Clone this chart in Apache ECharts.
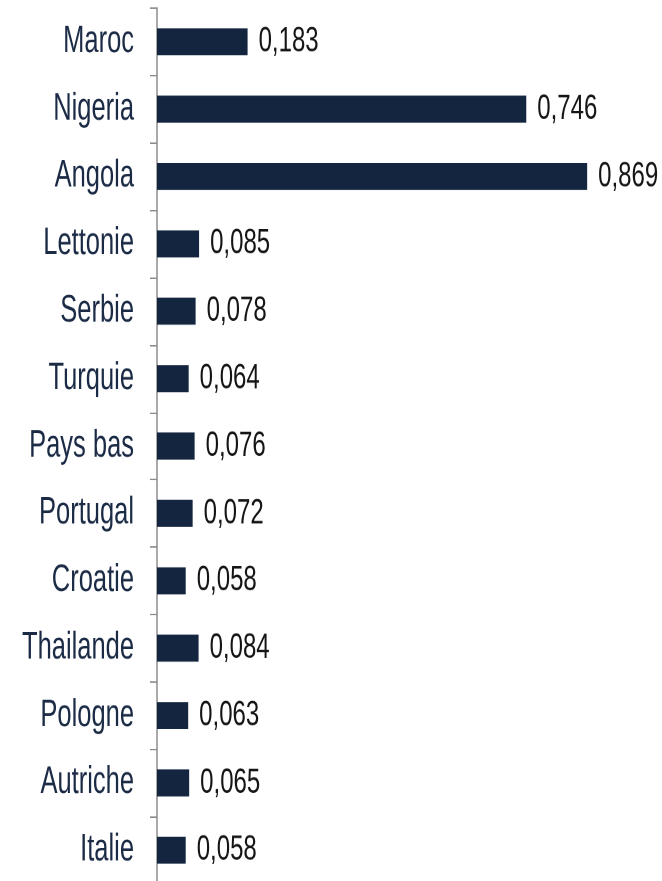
<!DOCTYPE html>
<html>
<head>
<meta charset="utf-8">
<script src="https://cdn.jsdelivr.net/npm/echarts@6/dist/echarts.min.js"></script>
<style>
  html, body { margin: 0; padding: 0; background: #fff; }
  #wrap { width: 662px; height: 881px; position: relative; overflow: hidden; }
  /* the reference is a vertically stretched export: draw at 600px high, stretch to 881 */
  #chart { position: absolute; left: 0; top: 0; width: 662px; height: 600px;
           transform: scaleY(1.4683); transform-origin: 0 0; }
</style>
</head>
<body>
<div id="wrap"><div id="chart"></div></div>
<script>
const countries = ["Maroc", "Nigeria", "Angola", "Lettonie", "Serbie", "Turquie", "Pays bas",
  "Portugal", "Croatie", "Thailande", "Pologne", "Autriche", "Italie"];
const values = [0.183, 0.746, 0.869, 0.085, 0.078, 0.064, 0.076, 0.072, 0.058, 0.084, 0.063, 0.065, 0.058];

const font = '"Liberation Sans", Arial, sans-serif';
const chart = echarts.init(document.getElementById("chart"), null, { renderer: "canvas", devicePixelRatio: 2 });

chart.setOption({
  animation: false,
  grid: { left: 157, top: 5.5, width: 495, height: 596.5, outerBoundsMode: "none", containLabel: false },
  xAxis: {
    type: "value",
    min: 0,
    max: 1,
    show: false
  },
  yAxis: {
    type: "category",
    inverse: true,
    data: countries,
    axisLine: { lineStyle: { color: "#8c8c8c", width: 1.5 } },
    axisTick: { show: true, length: 7, lineStyle: { color: "#8c8c8c", width: 1 } },
    axisLabel: {
      margin: 23,
      color: "#1b2b45",
      fontFamily: font,
      fontSize: 25.5
    },
    splitLine: { show: false }
  },
  series: [
    {
      type: "bar",
      data: values,
      barWidth: 18.4,
      itemStyle: { color: "#13253f" },
      label: {
        show: true,
        position: "right",
        distance: 11,
        color: "#151515",
        fontFamily: font,
        fontSize: 24,
        formatter: (p) => p.value.toFixed(3).replace(".", ",")
      }
    }
  ]
});
</script>
</body>
</html>
